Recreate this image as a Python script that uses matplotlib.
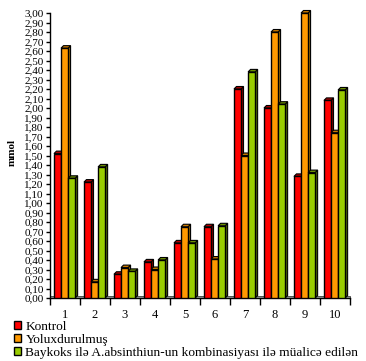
import matplotlib
matplotlib.use("Agg")
import numpy as np
from matplotlib import pyplot as plt
from matplotlib.patches import Polygon, Rectangle

# data
groups = ["1", "2", "3", "4", "5", "6", "7", "8", "9", "10"]
kontrol = [1.52, 1.22, 0.25, 0.38, 0.58, 0.75, 2.20, 2.00, 1.28, 2.08]
yoluxdurulmus = [2.63, 0.17, 0.32, 0.30, 0.75, 0.41, 1.50, 2.80, 3.00, 1.74]
baykoks = [1.26, 1.38, 0.28, 0.40, 0.58, 0.76, 2.38, 2.04, 1.32, 2.19]
series_names = ["Kontrol", "Yoluxdurulmuş",
                "Baykoks ilə A.absinthiun-un kombinasiyası ilə müalicə edilən"]
yticks = np.round(np.arange(0, 3.001, 0.1), 2)

face_colors = ["#ff0000", "#ff9900", "#99cc00"]
side_colors = ["#800000", "#996600", "#4d6600"]
top_colors = ["#b30000", "#cc7a00", "#6b8f00"]

plt.rcParams["font.family"] = ["Liberation Serif", "DejaVu Serif"]

fig = plt.figure(figsize=(3.66, 3.61), dpi=100)
ax = fig.add_axes([50 / 366, 1 - 298 / 361, 300 / 366, 285 / 361])
ax.set_xlim(0.5, 10.5)
ax.set_ylim(0, 3.0)

# pixel -> data scale for the pseudo 3D depth
dx = 2.5 * 10 / 300
dy = 2.5 * 3.0 / 285

x = np.arange(1, len(groups) + 1)
width = 0.235
offsets = [-0.25, -0.015, 0.22]

# gray floor
ax.add_patch(Rectangle((0.5, 0), 10, dy, facecolor="#a0a0a0",
                       edgecolor="#404040", lw=0.6, zorder=1, clip_on=False))

for k, vals in enumerate([kontrol, yoluxdurulmus, baykoks]):
    xs = x + offsets[k]
    ax.bar(xs, vals, width=width, color=face_colors[k], edgecolor="black",
           linewidth=1.0, zorder=3 + k, label=series_names[k])
    for xc, v in zip(xs, vals):
        x0, x1 = xc - width / 2, xc + width / 2
        side = Polygon([[x1, 0], [x1 + dx, dy], [x1 + dx, v + dy], [x1, v]],
                       facecolor=side_colors[k], edgecolor="black", lw=0.8,
                       zorder=2.5 + k, clip_on=False)
        top = Polygon([[x0, v], [x0 + dx, v + dy], [x1 + dx, v + dy], [x1, v]],
                      facecolor=top_colors[k], edgecolor="black", lw=0.8,
                      zorder=2.5 + k, clip_on=False)
        ax.add_patch(side)
        ax.add_patch(top)

# axes
for s in ["top", "right"]:
    ax.spines[s].set_visible(False)
ax.spines["left"].set_linewidth(1.0)
ax.spines["bottom"].set_linewidth(1.0)
ax.set_yticks(yticks)
ax.set_yticklabels([f"{t:.2f}".replace(".", ",") for t in yticks], fontsize=8)
ax.tick_params(axis="y", length=3, width=1, pad=1.5)
ax.set_xticks(np.arange(0.5, 11, 1))
ax.set_xticklabels([])
ax.set_xticks(x, minor=True)
ax.set_xticklabels(groups, minor=True, fontsize=9)
ax.tick_params(axis="x", which="major", length=5, width=1)
ax.tick_params(axis="x", which="minor", length=0, pad=8)

fig.text(12 / 366, 1 - 152 / 361, "mmol", rotation=90, fontsize=8,
         fontweight="bold", ha="center", va="center")

handles, labels = ax.get_legend_handles_labels()
fig.legend(handles, labels, loc="upper left", bbox_to_anchor=(14 / 366, 1 - 321 / 361),
           frameon=False, fontsize=9.6, handlelength=0.55, handleheight=0.55,
           handletextpad=0.3, labelspacing=0.06, borderpad=0, borderaxespad=0)

fig.savefig("out.png", dpi=100)
